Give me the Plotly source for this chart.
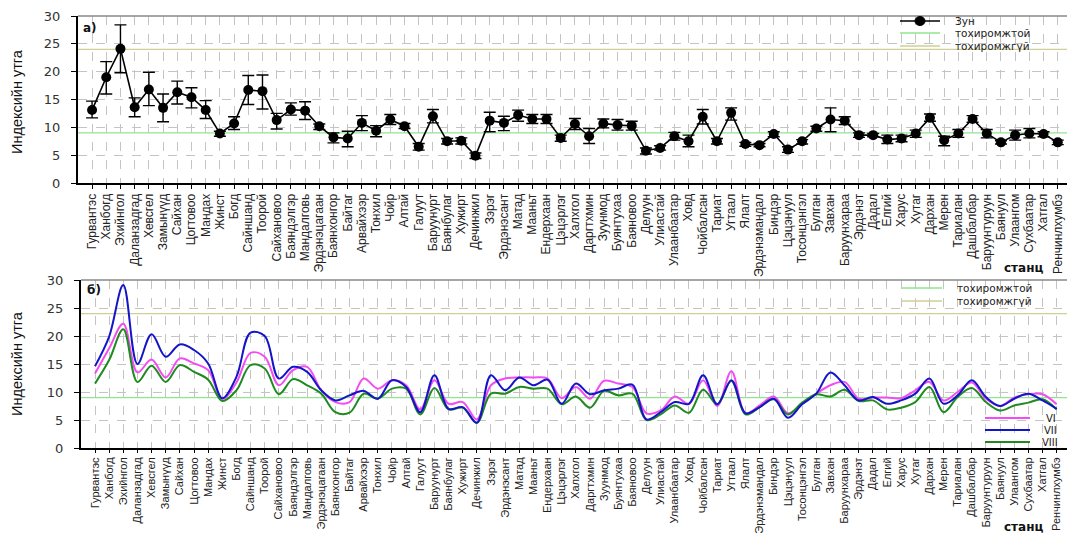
import plotly.graph_objects as go

# ---- data -------------------------------------------------------------
stations = [
    "Гурвантэс", "Ханбогд", "Эхийнгол", "Даланзадгад", "Хевсгел", "Замынүүд",
    "Сайхан", "Цогтовоо", "Мандах", "Жинст", "Богд", "Сайншанд", "Тоорой",
    "Сайхановоо", "Баяндэлгэр", "Мандалговь", "Эрдэнэцагаан", "Баянхонгор",
    "Байтаг", "Арвайхээр", "Тонхил", "Чойр", "Алтай", "Галуут", "Баруунурт",
    "Баянбулаг", "Хужирт", "Дечинжил", "Зэрэг", "Эрдэнэсант", "Матад", "Мааньт",
    "Ендерхаан", "Цэцэрлэг", "Халхгол", "Даргтхмин", "Зуунмод", "Буянтухаа",
    "Баяновоо", "Делуун", "Улиастай", "Улаанбаатар", "Ховд", "Чойбалсан",
    "Тариат", "Угтаал", "Ялалт", "Эрдэнэмандал", "Биндэр", "Цэцэнуул",
    "Тосонцэнгэл", "Булган", "Завхан", "Баруунхараа", "Эрдэнэт", "Дадал",
    "Елгий", "Харус", "Хутаг", "Дархан", "Мерен", "Тариалан", "Дашбалбар",
    "Баруунтуруун", "Баянуул", "Улаангом", "Сухбаатар", "Хатгал", "Ренчинлхумбэ",
]

# summer mean index with upper / lower whisker values
zun = [13.1, 19.0, 24.1, 13.6, 16.8, 13.5, 16.3, 15.4, 13.1, 8.9,
       10.7, 16.7, 16.5, 11.3, 13.2, 13.0, 10.2, 8.2, 8.0, 10.8,
       9.4, 11.4, 10.2, 6.5, 12.0, 7.5, 7.6, 4.9, 11.2, 10.8,
       12.2, 11.5, 11.5, 8.1, 10.6, 8.4, 10.7, 10.4, 10.3, 5.8,
       6.3, 8.4, 7.5, 11.9, 7.5, 12.6, 7.0, 6.8, 8.8, 6.0,
       7.5, 9.8, 11.4, 11.2, 8.6, 8.6, 7.8, 8.0, 8.9, 11.7,
       7.7, 8.9, 11.5, 8.9, 7.3, 8.6, 8.9, 8.8, 7.3]
zun_hi = [14.7, 21.8, 28.4, 15.3, 19.9, 16.0, 18.3, 17.1, 14.8, 9.3,
          11.9, 19.3, 19.4, 12.5, 14.4, 14.6, 10.6, 9.0, 9.3, 12.1,
          10.3, 12.3, 10.7, 7.1, 13.2, 8.0, 8.1, 5.4, 12.7, 12.0,
          13.1, 12.3, 12.3, 8.6, 11.6, 9.8, 11.5, 11.4, 11.1, 6.3,
          6.7, 9.1, 8.6, 13.2, 8.0, 13.5, 7.3, 7.1, 9.2, 6.5,
          7.8, 10.2, 13.5, 11.9, 9.0, 8.9, 8.6, 8.6, 9.5, 12.4,
          8.4, 9.6, 12.1, 9.6, 7.6, 9.5, 9.8, 9.2, 7.7]
zun_lo = [11.7, 16.0, 19.8, 11.9, 13.9, 11.0, 14.2, 13.5, 11.6, 8.4,
          9.6, 14.1, 13.3, 9.7, 12.2, 11.4, 9.6, 7.2, 6.5, 9.4,
          8.3, 10.5, 9.8, 5.9, 10.8, 7.0, 7.0, 4.4, 9.2, 9.4,
          11.1, 10.7, 10.7, 7.5, 9.6, 7.1, 9.9, 9.5, 9.5, 5.2,
          5.9, 7.7, 6.5, 10.6, 7.0, 11.3, 6.6, 6.5, 8.3, 5.5,
          7.0, 9.3, 9.2, 10.5, 8.2, 8.3, 7.1, 7.4, 8.2, 11.1,
          6.7, 8.2, 10.9, 8.1, 7.0, 7.7, 8.1, 8.3, 6.9]

# monthly index (June, July, August)
vi = [13.3, 17.8, 22.2, 13.5, 15.8, 12.6, 16.0, 15.1, 13.9, 8.8,
      11.7, 17.0, 16.3, 11.2, 13.9, 14.5, 10.3, 8.2, 8.2, 12.4,
      10.6, 12.1, 11.2, 6.9, 12.1, 7.9, 8.2, 5.1, 11.2, 12.4,
      12.6, 12.6, 12.4, 8.9, 10.9, 8.8, 12.0, 11.5, 10.9, 6.2,
      6.7, 9.2, 7.9, 12.1, 7.5, 13.7, 6.2, 7.6, 9.2, 6.2,
      7.9, 9.7, 11.2, 11.8, 8.8, 9.0, 9.0, 8.9, 10.3, 11.8,
      8.5, 10.0, 11.7, 8.8, 7.5, 9.0, 9.6, 9.6, 7.8]
vii = [14.6, 19.9, 29.1, 15.0, 20.3, 16.3, 18.5, 17.5, 15.1, 8.9,
       12.7, 20.6, 20.0, 12.4, 14.5, 13.6, 10.3, 8.5, 9.4, 10.2,
       8.8, 12.1, 10.9, 6.4, 13.0, 7.0, 7.3, 4.5, 13.0, 10.3,
       12.6, 11.2, 12.2, 7.9, 11.5, 9.6, 10.3, 10.6, 11.3, 5.1,
       6.4, 8.2, 7.9, 13.0, 7.8, 12.1, 6.2, 7.3, 8.8, 5.4,
       7.8, 9.7, 13.5, 11.2, 8.5, 9.1, 7.9, 8.5, 9.7, 12.4,
       7.9, 9.4, 12.1, 9.1, 7.5, 8.8, 9.7, 8.5, 7.0]
viii = [11.5, 15.7, 21.2, 11.8, 14.7, 11.8, 14.8, 13.6, 12.2, 8.4,
        10.3, 14.8, 14.2, 9.6, 12.3, 11.2, 9.7, 6.4, 6.3, 9.7,
        8.8, 10.6, 10.6, 6.0, 10.7, 6.9, 7.2, 4.5, 9.7, 9.7,
        10.9, 10.6, 10.6, 7.8, 9.2, 7.2, 10.2, 9.4, 9.7, 5.0,
        6.0, 7.6, 6.3, 10.4, 7.8, 12.0, 6.0, 7.3, 8.7, 6.0,
        8.1, 9.6, 9.2, 10.4, 8.4, 8.5, 6.9, 7.2, 8.2, 10.9,
        6.4, 9.1, 10.7, 8.2, 6.7, 7.6, 8.1, 8.7, 6.9]

threshold_ok = 9     # тохиромжтой
threshold_bad = 24   # тохиромжгүй
y_ticks = [0, 5, 10, 15, 20, 25, 30]

# ---- styling helpers --------------------------------------------------
W, H = 1067, 533
C_OK = "#8fe68f"
C_BAD = "#cfcf96"
C_GRID = "#c4c4c4"
C_VI, C_VII, C_VIII = "#f24cf2", "#1414c8", "#1f8a1f"
NARROW = "Liberation Sans Narrow, Arial Narrow, Liberation Sans, Arial"
WIDE = "DejaVu Sans, Verdana, sans-serif"


def fx(p):
    return p / W


def fy(p):
    return 1 - p / H


idx = list(range(len(stations)))

fig = go.Figure()

fig.add_trace(go.Scatter(
    x=idx, y=zun, mode="lines+markers", name="Зун", showlegend=False,
    line=dict(color="black", width=1.6),
    marker=dict(color="black", size=10),
    error_y=dict(type="data", symmetric=False,
                 array=[h - v for h, v in zip(zun_hi, zun)],
                 arrayminus=[v - l for v, l in zip(zun, zun_lo)],
                 color="black", thickness=1.4, width=6),
    xaxis="x", yaxis="y",
))

for name, vals, col in [("VI", vi, C_VI), ("VIII", viii, C_VIII), ("VII", vii, C_VII)]:
    fig.add_trace(go.Scatter(
        x=idx, y=vals, mode="lines", name=name, showlegend=False,
        line=dict(color=col, width=2, shape="spline", smoothing=1),
        xaxis="x2", yaxis="y2",
    ))

xbase = dict(
    tickmode="array", tickvals=idx, ticktext=stations, tickangle=-90,
    tickfont=dict(family=NARROW, size=12, color="#222"),
    showgrid=True, gridcolor=C_GRID, griddash="dash", gridwidth=1,
    showline=True, linecolor="black", linewidth=2,
    ticks="outside", ticklen=4, tickcolor="black", tickwidth=1,
    zeroline=False, automargin=False, fixedrange=True,
)
ybase = dict(
    range=[0, 30], tickmode="array", tickvals=y_ticks,
    tickfont=dict(family=WIDE, size=13, color="#333"),
    showgrid=True, gridcolor=C_GRID, griddash="dash", gridwidth=1,
    showline=True, linecolor="black", linewidth=2,
    ticks="outside", ticklen=5, tickcolor="black", ticklabelstandoff=8,
    zeroline=False, automargin=False, fixedrange=True,
)

fig.update_layout(
    width=W, height=H,
    margin=dict(l=0, r=0, t=0, b=0),
    paper_bgcolor="white", plot_bgcolor="white",
    showlegend=False,
    xaxis=dict(xbase, domain=[fx(78), 1], range=[-0.99, 68.65], anchor="y"),
    yaxis=dict(ybase, domain=[fy(183), fy(16)], anchor="x"),
    xaxis2=dict(xbase, domain=[fx(81), 1], range=[-0.99, 68.73], anchor="y2",
                ticklen=3, tickfont=dict(family=NARROW, size=11, color="#222")),
    yaxis2=dict(ybase, domain=[fy(448), fy(280)], anchor="x2"),
)

shapes = []
for xr, yr in [("x", "y"), ("x2", "y2")]:
    # threshold lines
    for val, col in [(threshold_ok, C_OK), (threshold_bad, C_BAD)]:
        shapes.append(dict(type="line", xref=f"{xr} domain", yref=yr,
                           x0=0, x1=1, y0=val, y1=val,
                           line=dict(color=col, width=1.3), layer="below"))
    # frame top edge
    shapes.append(dict(type="line", xref=f"{xr} domain", yref=f"{yr} domain",
                       x0=0, x1=1, y0=1, y1=1,
                       line=dict(color="#888", width=1.3)))

annotations = []


def legend_entry(x0, x1, y, col, text, tx, width=1.3, marker=False, size=10.5):
    shapes.append(dict(type="line", xref="paper", yref="paper",
                       x0=fx(x0), x1=fx(x1), y0=fy(y), y1=fy(y),
                       line=dict(color=col, width=width)))
    if marker:
        cx = (x0 + x1) / 2
        shapes.append(dict(type="circle", xref="paper", yref="paper",
                           x0=fx(cx - 5), x1=fx(cx + 5), y0=fy(y + 4.5), y1=fy(y - 4.5),
                           fillcolor="black", line=dict(color="black", width=1)))
    annotations.append(dict(xref="paper", yref="paper", x=fx(tx), y=fy(y),
                            text=text, showarrow=False, xanchor="left", yanchor="middle",
                            font=dict(family=WIDE, size=size, color="#222")))


# legend of panel а)
legend_entry(900, 940, 21, "black", "Зун", 953, width=1.6, marker=True)
legend_entry(900, 940, 33, C_OK, "тохиромжтой", 953)
legend_entry(900, 940, 46, C_BAD, "тохиромжгүй", 953)
# legends of panel б)
legend_entry(902, 942, 288, C_OK, "тохиромжтой", 955)
legend_entry(902, 942, 301, C_BAD, "тохиромжгүй", 955)
legend_entry(985, 1030, 418, C_VI, "VI", 1044, width=2, size=10)
legend_entry(985, 1030, 430, C_VII, "VII", 1042, width=2, size=10)
legend_entry(985, 1030, 442, C_VIII, "VIII", 1040, width=2, size=10)

# panel letters
for text, x, y in [("а)", 81, 28), ("б)", 85, 290)]:
    annotations.append(dict(xref="paper", yref="paper", x=fx(x), y=fy(y), text=f"<b>{text}</b>",
                            showarrow=False, xanchor="left", yanchor="middle",
                            font=dict(family=WIDE, size=12, color="#111")))

# axis titles
for y in (102, 364):
    annotations.append(dict(xref="paper", yref="paper", x=fx(17), y=fy(y), text="Индексийн утга",
                            textangle=-90, showarrow=False, xanchor="center", yanchor="middle",
                            font=dict(family=NARROW, size=14.5, color="#111")))
for y in (268, 527):
    annotations.append(dict(xref="paper", yref="paper", x=fx(1023), y=fy(y), text="<b>станц</b>",
                            showarrow=False, xanchor="center", yanchor="middle",
                            font=dict(family=WIDE, size=12, color="#111")))

fig.update_layout(shapes=shapes, annotations=annotations)

fig.write_html("out.html")
